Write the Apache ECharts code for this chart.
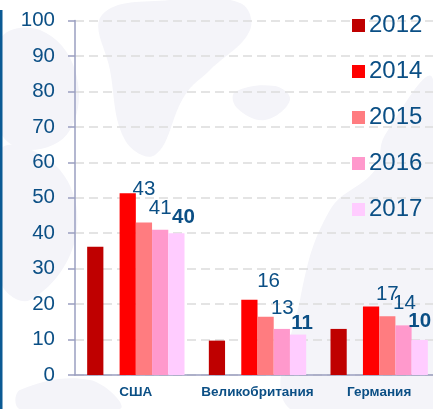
<!DOCTYPE html>
<html><head><meta charset="utf-8">
<style>html,body{margin:0;padding:0;background:#fff}#c{width:433px;height:409px}</style>
<script src="https://cdn.jsdelivr.net/npm/echarts@6/dist/echarts.min.js"></script>
</head><body><div id="c"></div>
<script>
const categories = ['США','Великобритания','Германия'];
const yTicks = [0,100];
const s2012 = [36.2, 9.7, 13];
const s2013 = [null, null, null];
const s2014 = [51.3, 21.2, 19.3];
const s2015 = [43, 16.4, 16.6];
const s2016 = [41, 13, 14];
const s2017 = [40, 11.4, 9.9];
const labels2015 = ['43','16','17'];
const labels2016 = ['41','13','14'];
const labels2017 = ['40','11','10'];
const off2015 = [[0,-17.5],[3,-20],[0,-6.5]];
const off2016 = [[0,-6],[0.5,-5.5],[1,-7]];
const off2017 = [[7,-0.5],[4,4.5],[0,-3]];
const legendYears = ['2012','2014','2015','2016','2017'];
const BLUE = '#0b4f85';

function labelled(vals, texts, offs, bold){
  return vals.map((v,i)=>({value:v,label:{show:true,position:'top',formatter:texts[i],offset:offs[i],
    color:BLUE,fontFamily:'Liberation Sans',fontSize:20.5,fontWeight:bold?'bold':'normal'}}));
}
const bar = (name,color,data)=>({name,type:'bar',data,barGap:0,barCategoryGap:'20%',itemStyle:{color},z:3});
const blob = pts => ({type:'polygon',z:-10,silent:true,shape:{points:pts,smooth:0.4},style:{fill:'#f4f4f9'}});

const chart = echarts.init(document.getElementById('c'),null,{renderer:'canvas'});
chart.setOption({
  animation:false,
  backgroundColor:'#fff',
  graphic:[
    blob([[102,15],[170,0],[240,3],[250,30],[210,70],[185,95],[155,155],[125,140],[110,70]]),
    blob([[235,92],[275,86],[290,100],[265,120],[237,108]]),
    blob([[0,40],[40,30],[75,70],[70,130],[30,150],[0,130]]),
    blob([[0,150],[60,170],[75,240],[30,300],[0,280]]),
    blob([[385,135],[433,80],[433,409],[290,409],[300,300],[330,210],[375,170]]),
    blob([[20,390],[90,380],[120,409],[20,409]]),
    {type:'rect',z:5,silent:true,shape:{x:0,y:10,width:2.5,height:399},style:{fill:'#0b5a94'}}
  ],
  legend:{
    data:legendYears,orient:'vertical',left:347,top:8.5,itemWidth:13,itemHeight:13,itemGap:22,
    icon:'rect',selectedMode:false,
    textStyle:{color:BLUE,fontFamily:'Liberation Sans',fontSize:24,lineHeight:24,padding:[0,0,0,-1]}
  },
  grid:{left:75,top:20.5,width:365,height:354.5,containLabel:false,outerBoundsMode:'none'},
  xAxis:{type:'category',data:categories,
    axisLine:{lineStyle:{color:'#9a9fc0',width:1.5}},
    axisTick:{length:3,lineStyle:{color:'#9a9fc0',width:1.5}},
    axisLabel:{color:BLUE,fontFamily:'Liberation Sans',fontSize:13.5,fontWeight:'bold',margin:10,interval:0,hideOverlap:false}},
  yAxis:{type:'value',min:yTicks[0],max:yTicks[1],interval:10,
    axisLine:{show:true,lineStyle:{color:'#9a9fc0',width:1.5}},
    axisTick:{show:true,length:7,lineStyle:{color:'#9a9fc0',width:1.5}},
    axisLabel:{color:BLUE,fontFamily:'Liberation Sans',fontSize:20.5,margin:20},
    splitLine:{show:true,lineStyle:{color:'#dcdcdc',type:[9,5],width:1.5}}},
  series:[
    bar('2012','#bf0000',s2012),
    bar('2013','#ffffff',s2013),
    bar('2014','#ff0000',s2014),
    bar('2015','#ff7c80',labelled(s2015,labels2015,off2015,false)),
    bar('2016','#ff99cc',labelled(s2016,labels2016,off2016,false)),
    bar('2017','#ffccff',labelled(s2017,labels2017,off2017,true))
  ]
});
</script></body></html>
